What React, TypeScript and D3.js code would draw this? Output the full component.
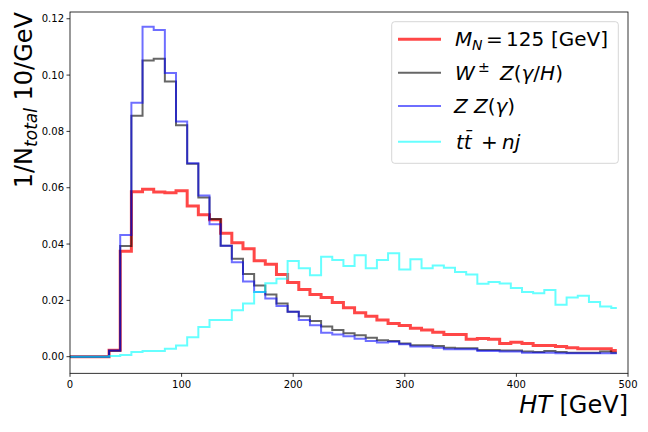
import React from "react";
import * as d3 from "d3";

const binCenters = d3.range(0, 500, 10);

const signalMN125 = [
  0, 0, 0, 0, 0.0023, 0.0374, 0.0586, 0.0595, 0.0585, 0.0582,
  0.0589, 0.0535, 0.0504, 0.0486, 0.0438, 0.0405, 0.0383, 0.0341, 0.0328, 0.0292,
  0.0263, 0.0239, 0.0221, 0.021, 0.0192, 0.0174, 0.0156, 0.0144, 0.013, 0.0118,
  0.0111, 0.0101, 0.0095, 0.0087, 0.0079, 0.0079, 0.0062, 0.0065, 0.0062, 0.0047,
  0.0051, 0.0047, 0.004, 0.004, 0.0036, 0.0032, 0.0028, 0.0028, 0.0028, 0.0022,
];

const wzBackground = [
  0, 0, 0, 0, 0.0021, 0.0393, 0.0856, 0.1052, 0.1058, 0.0977,
  0.0822, 0.0685, 0.0565, 0.0489, 0.0394, 0.0348, 0.0294, 0.0253, 0.0221, 0.0189,
  0.016, 0.0144, 0.0127, 0.0107, 0.0095, 0.0083, 0.0076, 0.0067, 0.0058, 0.0056,
  0.0047, 0.0041, 0.0041, 0.0038, 0.0032, 0.003, 0.003, 0.0024, 0.0024, 0.0022,
  0.0022, 0.0018, 0.0017, 0.002, 0.0017, 0.0014, 0.0014, 0.0014, 0.0018, 0.0014,
];

const zzBackground = [
  0, 0, 0, 0, 0.0022, 0.0432, 0.0902, 0.1172, 0.116, 0.1007,
  0.0835, 0.0687, 0.0572, 0.047, 0.0394, 0.0335, 0.0267, 0.023, 0.0207, 0.018,
  0.016, 0.013, 0.0112, 0.0085, 0.0079, 0.0073, 0.0064, 0.0056, 0.005, 0.0053,
  0.0044, 0.0036, 0.0036, 0.0032, 0.0026, 0.0026, 0.0026, 0.002, 0.002, 0.0018,
  0.0018, 0.0014, 0.0014, 0.0014, 0.0012, 0.0012, 0.0012, 0.0012, 0.0012, 0.0012,
];

const ttBackground = [
  0, 0, 0, 0, 0.0002, 0.0006, 0.0017, 0.002, 0.002, 0.0028,
  0.004, 0.0069, 0.0105, 0.013, 0.013, 0.0165, 0.0189, 0.023, 0.0261, 0.0277,
  0.034, 0.0314, 0.0289, 0.0355, 0.0343, 0.0322, 0.036, 0.0314, 0.0343, 0.0367,
  0.031, 0.0346, 0.0314, 0.0324, 0.0316, 0.0301, 0.0292, 0.0259, 0.0265, 0.026,
  0.0244, 0.023, 0.0225, 0.0237, 0.0184, 0.021, 0.0216, 0.0194, 0.0178, 0.0173,
];

const xTicks = [0, 100, 200, 300, 400, 500];
const yTicks = [0, 0.02, 0.04, 0.06, 0.08, 0.1, 0.12];

const FONT = "DejaVu Sans";

const series = [
  { values: signalMN125, color: "rgba(255,0,0,0.72)", width: 3 },
  { values: wzBackground, color: "rgba(0,0,0,0.6)", width: 2 },
  { values: zzBackground, color: "rgba(0,0,255,0.57)", width: 2 },
  { values: ttBackground, color: "rgba(0,255,255,0.6)", width: 2 },
];

export default function App() {
  const left = 70, right = 628, top = 12, bottom = 373.3;
  const x = d3.scaleLinear().domain([0, 500]).range([left, right]);
  const y = d3.scaleLinear().domain([-0.0059, 0.1224]).range([bottom, top]);

  const line = d3
    .line<number>()
    .x((_, i) => x(binCenters[i]))
    .y((d) => y(d))
    .curve(d3.curveStep);

  const legendRows = [39.3, 72.7, 106, 141.7];
  const fs = 20;

  return (
    <svg
      width={648}
      height={432}
      style={{ position: "absolute", left: 0, top: 0, background: "white" }}
      fontFamily={FONT}
    >
      <rect x={0} y={0} width={648} height={432} fill="white" />
      <clipPath id="plotclip">
        <rect x={left} y={top} width={right - left} height={bottom - top} />
      </clipPath>

      <g clipPath="url(#plotclip)">
        {series.map((s, i) => (
          <path
            key={i}
            d={line(s.values) || ""}
            fill="none"
            stroke={s.color}
            strokeWidth={s.width}
            strokeLinejoin="miter"
          />
        ))}
      </g>

      <rect
        x={left}
        y={top}
        width={right - left}
        height={bottom - top}
        fill="none"
        stroke="black"
        strokeWidth={0.8}
      />

      {xTicks.map((t) => (
        <g key={"x" + t}>
          <line x1={x(t)} x2={x(t)} y1={bottom} y2={bottom + 3.5} stroke="black" strokeWidth={0.8} />
          <text x={x(t)} y={bottom + 15} fontSize={10} textAnchor="middle" fill="black">
            {t}
          </text>
        </g>
      ))}

      {yTicks.map((t) => (
        <g key={"y" + t}>
          <line x1={left - 3.5} x2={left} y1={y(t)} y2={y(t)} stroke="black" strokeWidth={0.8} />
          <text x={left - 6} y={y(t) + 3.6} fontSize={10} textAnchor="end" fill="black">
            {d3.format(".2f")(t)}
          </text>
        </g>
      ))}

      <text x={right} y={413} fontSize={24} textAnchor="end" fill="black">
        <tspan fontStyle="italic">HT</tspan>
        <tspan> [GeV]</tspan>
      </text>

      <text
        transform={`translate(32,${top}) rotate(-90)`}
        fontSize={24}
        textAnchor="end"
        fill="black"
      >
        <tspan>1/N</tspan>
        <tspan fontStyle="italic" fontSize={17} dy={5}>total</tspan>
        <tspan dy={-5}> 10/GeV</tspan>
      </text>

      <rect
        x={391.7}
        y={21.7}
        width={226.6}
        height={141.6}
        rx={3}
        fill="rgba(255,255,255,0.8)"
        stroke="rgba(204,204,204,0.8)"
        strokeWidth={1}
      />
      {series.map((s, i) => (
        <line
          key={"lg" + i}
          x1={398}
          x2={441}
          y1={legendRows[i]}
          y2={legendRows[i]}
          stroke={s.color}
          strokeWidth={s.width}
        />
      ))}
      <text y={legendRows[0] + 7} fontSize={fs} fill="black">
        <tspan x={455} fontStyle="italic">M</tspan>
        <tspan x={472} fontStyle="italic" fontSize={14} dy={4}>N</tspan>
        <tspan x={486} dy={-4}>=</tspan>
        <tspan x={506}>125</tspan>
        <tspan x={551}>[GeV]</tspan>
      </text>
      <text y={legendRows[1] + 7} fontSize={fs} fill="black">
        <tspan x={455} fontStyle="italic">W</tspan>
        <tspan x={478} fontSize={14} dy={-8}>±</tspan>
        <tspan x={500} dy={8} fontStyle="italic">Z</tspan>
        <tspan>(</tspan>
        <tspan fontStyle="italic">γ</tspan>
        <tspan>/</tspan>
        <tspan fontStyle="italic">H</tspan>
        <tspan>)</tspan>
      </text>
      <text y={legendRows[2] + 7} fontSize={fs} fill="black">
        <tspan x={454} fontStyle="italic">Z</tspan>
        <tspan x={474} fontStyle="italic">Z</tspan>
        <tspan>(</tspan>
        <tspan fontStyle="italic">γ</tspan>
        <tspan>)</tspan>
      </text>
      <text y={legendRows[3] + 7} fontSize={fs} fill="black">
        <tspan x={456} fontStyle="italic">t</tspan>
        <tspan fontStyle="italic">{"t\u0304"}</tspan>
        <tspan x={481}>+</tspan>
        <tspan x={502} fontStyle="italic">nj</tspan>
      </text>
    </svg>
  );
}
